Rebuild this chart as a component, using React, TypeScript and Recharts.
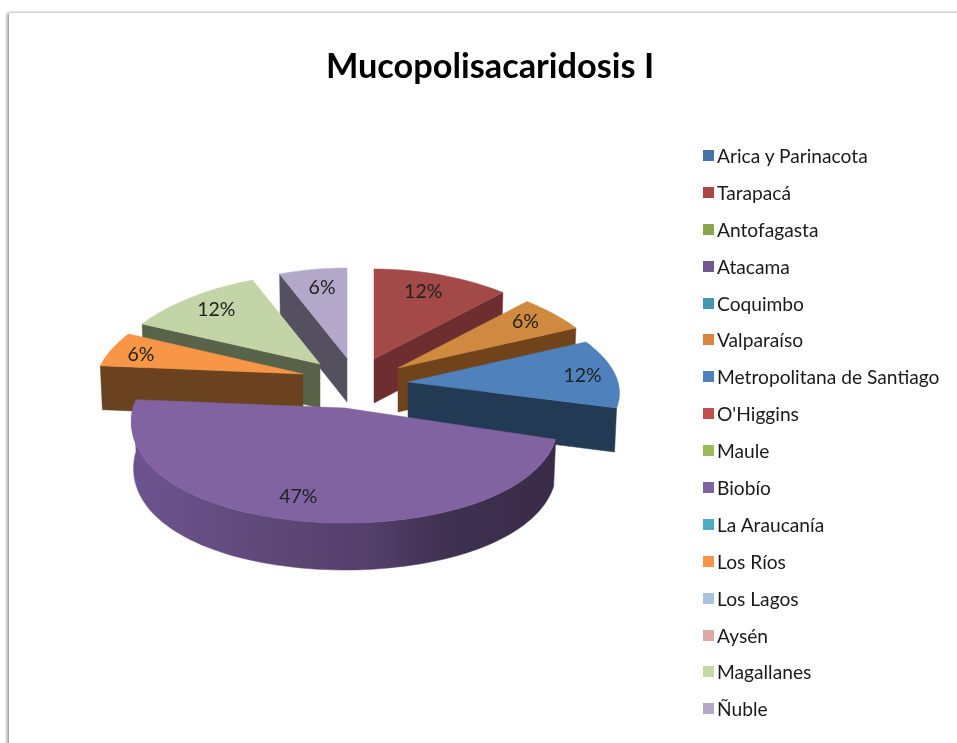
import { Legend, Pie, PieChart } from 'recharts';

const regions = [
  'Arica y Parinacota',
  'Tarapacá',
  'Antofagasta',
  'Atacama',
  'Coquimbo',
  'Valparaíso',
  'Metropolitana de Santiago',
  "O'Higgins",
  'Maule',
  'Biobío',
  'La Araucanía',
  'Los Ríos',
  'Los Lagos',
  'Aysén',
  'Magallanes',
  'Ñuble',
];
const patients = [0, 2, 0, 0, 0, 1, 2, 0, 0, 8, 0, 1, 0, 0, 2, 1];
const legendColors = [
  '#4572A7', '#AA4643', '#89A54E', '#71588F', '#4198AF', '#DB843D', '#4F81BD', '#C0504D',
  '#9BBB59', '#8064A2', '#4BACC6', '#F79646', '#A9C0DE', '#DDA9A8', '#C4D7A5', '#B5A7C9',
];

// back slices first, the big front one last
const drawOrder = ['Ñuble', 'Magallanes', 'Los Ríos', 'Tarapacá', 'Valparaíso', 'Metropolitana de Santiago', 'Biobío'];

const tableData = regions.map((name, i) => ({ name, value: patients[i] }));

const CX = 345;
const CY = 380;
const RADIUS = 210;
// the tilted 3D look: flatter at the back, a bit of perspective on the width
const PERSPECTIVE = 0.12;
const RY_BACK = 90;
const RY_FRONT = 115;

type SliceStyle = {
  dx: number;
  dy: number;
  top: string;
  wall: string;
  depth: number;
  labelDx: number;
  labelDy: number;
  widthScale?: number;
  ryFront?: number;
};

const sliceStyles: Record<string, SliceStyle> = {
  Tarapacá: { dx: 29, dy: -21, top: '#A34A48', wall: '#6E2E30', depth: 44, labelDx: -6, labelDy: 0 },
  Valparaíso: { dx: 53, dy: -12, top: '#CF8A40', wall: '#70431B', depth: 44, labelDx: 0, labelDy: -3 },
  'Metropolitana de Santiago': { dx: 63, dy: 2, top: '#4F81BD', wall: '#233A55', depth: 44, labelDx: 5, labelDy: -1, ryFront: 95 },
  Biobío: { dx: 0, dy: 28, top: '#8063A0', wall: 'url(#biobioWall)', depth: 47, labelDx: -11, labelDy: -5, widthScale: 1.01 },
  'Los Ríos': { dx: -42, dy: -6, top: '#F79646', wall: '#6B4220', depth: 44, labelDx: -5, labelDy: 0, widthScale: 0.98 },
  Magallanes: { dx: -25, dy: -16, top: '#C3D5A6', wall: '#596349', depth: 44, labelDx: 2, labelDy: -1 },
  Ñuble: { dx: 2, dy: -22, top: '#B3A8C9', wall: '#54505F', depth: 44, labelDx: 3, labelDy: 1 },
};

const toRad = (deg: number) => (deg * Math.PI) / 180;

function renderSlice(only: string) {
  return function SliceShape(props: any) {
    if (props.name !== only || !props.value) return <g />;
    const st = sliceStyles[only];
    const ax = props.cx + st.dx;
    const ay = props.cy + st.dy;
    const R = props.outerRadius * (st.widthScale ?? 1);
    const ryFront = st.ryFront ?? RY_FRONT;
    // recharts angles run from 90 down to -270, we want clockwise from the top
    const t0 = 90 - props.startAngle;
    const t1 = 90 - props.endAngle;

    const pt = (deg: number, frac = 1, drop = 0): [number, number] => {
      const c = Math.cos(toRad(deg));
      const s = Math.sin(toRad(deg));
      const w = R * frac * s * (1 - PERSPECTIVE * c) * (drop ? 0.99 : 1);
      return [ax + w, ay - frac * c * (c > 0 ? RY_BACK : ryFront) + drop];
    };
    const arc = (from: number, to: number, drop = 0) => {
      const out: [number, number][] = [];
      const steps = Math.max(2, Math.ceil(Math.abs(to - from) / 2));
      for (let i = 0; i <= steps; i++) out.push(pt(from + ((to - from) * i) / steps, 1, drop));
      return out;
    };
    const toPath = (pts: [number, number][]) =>
      'M' + pts.map((p) => p[0].toFixed(1) + ',' + p[1].toFixed(1)).join('L') + 'Z';

    const walls: string[] = [];
    const cutWall = (deg: number) => [[ax, ay], pt(deg), pt(deg, 1, st.depth), [ax, ay + st.depth]] as [number, number][];
    if (Math.sin(toRad(t0)) < 0) walls.push(toPath(cutWall(t0)));
    if (Math.sin(toRad(t1)) > 0.001) walls.push(toPath(cutWall(t1)));
    const rimFrom = Math.max(t0, 90);
    const rimTo = Math.min(t1, 272);
    // short arcs just make a bump on the cut wall, skip them
    if (rimTo - rimFrom > 20) walls.push(toPath([...arc(rimFrom, rimTo), ...arc(rimFrom, rimTo, st.depth).reverse()]));

    const mid = (t0 + t1) / 2;
    const [lx, ly] = pt(mid, 0.82);

    return (
      <g>
        <defs>
          <linearGradient id="biobioWall" gradientUnits="userSpaceOnUse" x1={132} x2={557} y1={0} y2={0}>
            <stop offset="0%" stopColor="#6D5490" />
            <stop offset="30%" stopColor="#5F4979" />
            <stop offset="55%" stopColor="#54406B" />
            <stop offset="75%" stopColor="#3E3050" />
            <stop offset="100%" stopColor="#392C48" />
          </linearGradient>
        </defs>
        {walls.map((d, i) => (
          <path key={i} d={d} fill={st.wall} stroke={st.wall} strokeWidth={0.5} />
        ))}
        <path d={toPath([[ax, ay], ...arc(t0, t1)])} fill={st.top} stroke={st.top} strokeWidth={0.5} />
        <text
          x={lx + st.labelDx}
          y={ly + st.labelDy}
          textAnchor="middle"
          dominantBaseline="central"
          fontFamily="Lato, sans-serif"
          fontSize={19.5}
          fill="#222222"
        >
          {Math.round(props.percent * 100) + '%'}
        </text>
      </g>
    );
  };
}

function RegionLegend() {
  return (
    <div style={{ fontFamily: 'Lato, sans-serif', fontSize: 19.2, color: '#1a1a1a' }}>
      {regions.map((name, i) => (
        <div key={name} style={{ display: 'flex', alignItems: 'center', height: 36.9, whiteSpace: 'nowrap' }}>
          <span style={{ width: 11, height: 11, marginRight: 3, background: legendColors[i], flex: 'none' }} />
          {name}
        </div>
      ))}
    </div>
  );
}

export default function App() {
  return (
    <div style={{ position: 'absolute', left: 0, top: 0, width: 957, height: 743, overflow: 'hidden', background: '#fff' }}>
      <div
        style={{
          position: 'absolute',
          left: 9,
          top: 13,
          width: 970,
          height: 760,
          background: '#fff',
          boxShadow: '-2px 0 3px rgba(0,0,0,0.4), 0 -1px 2px rgba(0,0,0,0.05)',
        }}
      />
      <div style={{ position: 'absolute', left: 0, top: 0, filter: 'blur(0.45px)' }}>
        <PieChart width={957} height={743} margin={{ top: 0, right: 0, bottom: 0, left: 0 }}>
          <text
            x={490}
            y={64}
            textAnchor="middle"
            dominantBaseline="central"
            fontFamily="Lato, sans-serif"
            fontWeight={700}
            fontSize={34.3}
            fill="#000000"
          >
            Mucopolisacaridosis I
          </text>
          {drawOrder.map((name) => (
            <Pie
              key={name}
              data={tableData}
              dataKey="value"
              nameKey="name"
              cx={CX}
              cy={CY}
              outerRadius={RADIUS}
              startAngle={90}
              endAngle={-270}
              stroke="none"
              isAnimationActive={false}
              shape={renderSlice(name)}
            />
          ))}
          <Legend
            layout="vertical"
            content={<RegionLegend />}
            wrapperStyle={{ left: 703, top: 137, width: 250, right: 'auto', bottom: 'auto' }}
          />
        </PieChart>
      </div>
    </div>
  );
}
